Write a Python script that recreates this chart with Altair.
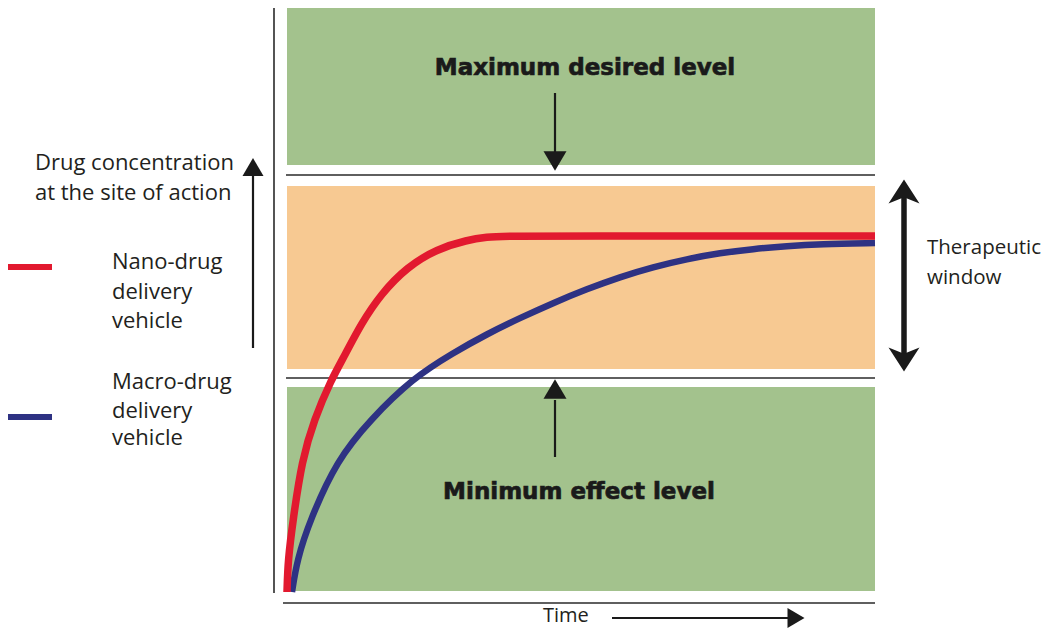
import altair as alt
import pandas as pd

# ---- data (in picture units: x to the right, y downward) ----
nano_x = [287, 288, 293, 302, 314, 331, 345, 361, 381, 407, 437, 467, 488, 502, 600, 700, 800, 875]
nano_y = [592, 560, 520, 460, 420, 380, 355, 324, 294, 267, 249, 240, 237, 236, 236, 236, 236, 236]

macro_x = [292, 297, 310, 337, 370, 413, 453, 487, 520, 553, 587, 620, 653, 687, 720, 753, 787, 820, 875]
macro_y = [592, 560, 520, 460, 420, 378, 353, 334, 318, 303, 289, 277, 267, 259, 253, 249, 246, 244, 243]

band_names = ["above", "window", "below"]
band_x0 = [287, 287, 287]
band_x1 = [875, 875, 875]
band_y0 = [2, 186, 387]
band_y1 = [165, 369, 591]
band_colors = ["#a3c28d", "#f7c992", "#a3c28d"]

level_names = ["Maximum desired level", "Minimum effect level"]
level_y = [175, 378]

bold_labels = ["Maximum desired level", "Minimum effect level"]
bold_x = [585, 579]
bold_y = [68, 492]

left_lines = ["Drug concentration", "at the site of action"]
left_y = [163, 193]
nano_lines = ["Nano-drug", "delivery", "vehicle"]
nano_text_y = [262, 292, 321]
macro_lines = ["Macro-drug", "delivery", "vehicle"]
macro_text_y = [382, 411, 438]
window_lines = ["Therapeutic", "window"]
window_y = [248, 278]

W, H = 1034, 620
X0, Y0 = 8, 8
xs = alt.Scale(domain=[X0, X0 + W], nice=False, zero=False)
ys = alt.Scale(domain=[Y0, Y0 + H], nice=False, zero=False, reverse=True)
NOAX = None
INK = "#231f20"


def X(f="x"):
    return alt.X(f"{f}:Q", scale=xs, axis=NOAX)


def Y(f="y"):
    return alt.Y(f"{f}:Q", scale=ys, axis=NOAX)


# bands
bands = pd.DataFrame({"name": band_names, "x0": band_x0, "x1": band_x1,
                      "y0": band_y0, "y1": band_y1, "c": band_colors})
band_layer = alt.Chart(bands).mark_rect().encode(
    x=X("x0"), x2="x1", y=Y("y0"), y2="y1",
    color=alt.Color("c:N", scale=None))

# thin level lines
lv = pd.DataFrame({"name": level_names, "y": level_y, "x0": [286, 286], "x1": [875, 875]})
level_layer = alt.Chart(lv).mark_rule(color="#2a2a2a", strokeWidth=1.6).encode(
    x=X("x0"), x2="x1", y=Y("y"))

# axes lines
ax_df = pd.DataFrame({"x0": [274, 283], "x1": [274, 875], "y0": [4, 603], "y1": [593, 603]})
axis_layer = alt.Chart(ax_df).mark_rule(color="#2a2a2a", strokeWidth=1.6).encode(
    x=X("x0"), x2="x1", y=Y("y0"), y2="y1")

# curves
nano = pd.DataFrame({"x": nano_x, "y": nano_y, "i": range(len(nano_x))})
macro = pd.DataFrame({"x": macro_x, "y": macro_y, "i": range(len(macro_x))})
macro_layer = alt.Chart(macro).mark_line(color="#2e3283", strokeWidth=6.5,
                                         interpolate="basis", strokeCap="butt").encode(
    x=X(), y=Y(), order="i:Q")
nano_layer = alt.Chart(nano).mark_line(color="#e2192f", strokeWidth=7.5,
                                       interpolate="basis", strokeCap="butt").encode(
    x=X(), y=Y(), order="i:Q")

# legend swatches
sw = pd.DataFrame({"x0": [2, 2], "x1": [52, 52], "y": [267, 417], "c": ["#e2192f", "#2e3283"]})
sw_layer = alt.Chart(sw).mark_rule(strokeWidth=6).encode(
    x=X("x0"), x2="x1", y=Y("y"), color=alt.Color("c:N", scale=None))

# arrow shafts
shafts = pd.DataFrame({
    "x0": [555, 555, 253, 612, 904],
    "x1": [555, 555, 253, 790, 904],
    "y0": [93, 400, 348, 618, 195],
    "y1": [155, 457, 172, 618, 355],
    "w": [2.2, 2.2, 2.2, 2.2, 5.5],
})
shaft_layer = alt.Chart(shafts).mark_rule(color="#1a1a1a").encode(
    x=X("x0"), x2="x1", y=Y("y0"), y2="y1", strokeWidth=alt.StrokeWidth("w:Q", scale=None))

tri_down = "M-1,-0.85L1,-0.85L0,0.85Z"
tri_up = "M-1,0.85L1,0.85L0,-0.85Z"
tri_right = "M-0.85,-1L-0.85,1L0.85,0Z"
swept_up = "M0,-1L1,0.55L0,0.15L-1,0.55Z"
swept_down = "M0,1L1,-0.55L0,-0.15L-1,-0.55Z"

heads = [
    (555, 161, tri_down, 23),
    (555, 389, tri_up, 23),
    (253, 167, tri_up, 21),
    (796, 618, tri_right, 20),
    (904, 195, swept_up, 31),
    (904, 356, swept_down, 31),
]
head_layers = []
for hx, hy, shp, wd in heads:
    d = pd.DataFrame({"x": [hx], "y": [hy]})
    head_layers.append(alt.Chart(d).mark_point(shape=shp, size=wd * wd, filled=True,
                                               color="#1a1a1a", opacity=1, strokeWidth=0)
                       .encode(x=X(), y=Y()))

# texts
bold_df = pd.DataFrame({"t": bold_labels, "x": bold_x, "y": bold_y})
bold_layer = alt.Chart(bold_df).mark_text(font="DejaVu Sans", fontWeight="bold", fontSize=23,
                                          fill="#1a1a1a", stroke="#1a1a1a", strokeWidth=0.7,
                                          align="center", baseline="middle").encode(
    x=X(), y=Y(), text="t:N")

FONT = "Open Sans"
left_df = pd.DataFrame({"t": left_lines, "x": [35, 35], "y": left_y})
left_layer = alt.Chart(left_df).mark_text(font=FONT, fontSize=22, color=INK,
                                          align="left", baseline="middle").encode(x=X(), y=Y(), text="t:N")

leg_df = pd.DataFrame({"t": nano_lines + macro_lines, "x": [112] * 6,
                       "y": nano_text_y + macro_text_y})
leg_layer = alt.Chart(leg_df).mark_text(font=FONT, fontSize=22, color=INK,
                                        align="left", baseline="middle").encode(x=X(), y=Y(), text="t:N")

win_df = pd.DataFrame({"t": window_lines, "x": [927, 927], "y": window_y})
win_layer = alt.Chart(win_df).mark_text(font=FONT, fontSize=20.5, color=INK,
                                        align="left", baseline="middle").encode(x=X(), y=Y(), text="t:N")

time_df = pd.DataFrame({"t": ["Time"], "x": [543], "y": [616]})
time_layer = alt.Chart(time_df).mark_text(font=FONT, fontSize=20, color=INK,
                                          align="left", baseline="middle").encode(x=X(), y=Y(), text="t:N")

chart = alt.layer(
    band_layer, level_layer, axis_layer, macro_layer, nano_layer, sw_layer,
    shaft_layer, *head_layers, bold_layer, left_layer, leg_layer, win_layer, time_layer
).properties(width=W, height=H, padding=0, autosize="none", background="white"
).configure_view(stroke=None)

chart.save("out.html", embed_options={"renderer": "svg", "actions": False})
